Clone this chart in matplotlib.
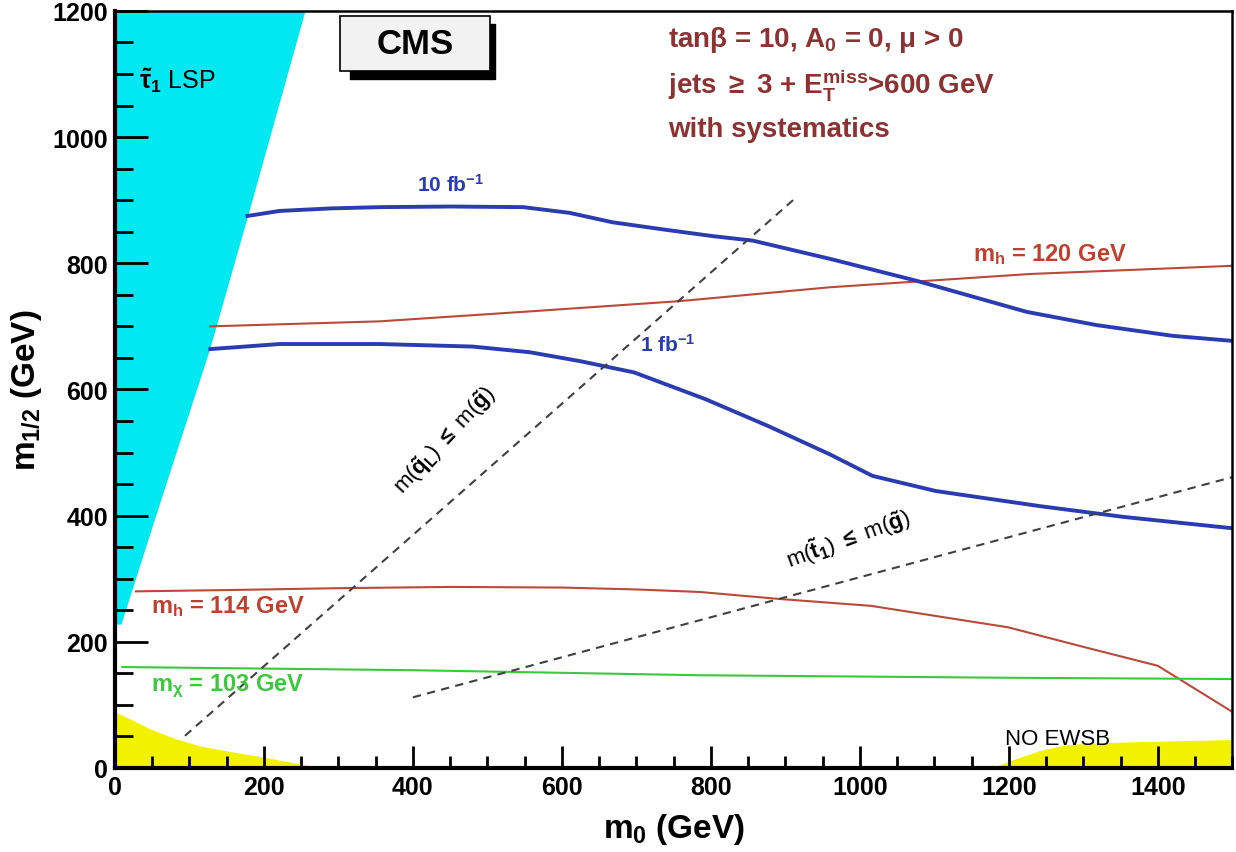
import matplotlib as mpl
from matplotlib import pyplot as plt
from matplotlib.patches import Rectangle
from matplotlib.ticker import MultipleLocator

mpl.rcParams['font.family'] = ['Liberation Sans', 'DejaVu Sans']
mpl.rcParams['font.weight'] = 'bold'
mpl.rcParams['axes.labelweight'] = 'bold'
mpl.rcParams['mathtext.fontset'] = 'custom'
mpl.rcParams['mathtext.rm'] = 'Liberation Sans:bold'
mpl.rcParams['mathtext.it'] = 'Liberation Sans:bold'
mpl.rcParams['mathtext.bf'] = 'Liberation Sans:bold'
mpl.rcParams['mathtext.sf'] = 'Liberation Sans:bold'

# %% data (GeV)
# stau LSP region (cyan), edge of the wedge
stau_edge_x = [8, 60, 127, 178, 255]
stau_edge_y = [228, 420, 664, 875, 1200]

# no EWSB / LEP excluded regions (yellow)
yel_left_x = [0, 25, 47, 80, 114, 160, 201, 250, 280]
yel_left_y = [89, 75, 62, 47, 35, 25, 17, 6, 0]
yel_right_x = [1176, 1210, 1240, 1265, 1287, 1350, 1420, 1500]
yel_right_y = [0, 15, 27, 34, 38, 41, 43, 45]

# reach contours
fb10_x = [178, 221, 290, 356, 450, 548, 610, 668, 740, 803, 856, 960, 1077, 1224, 1318, 1420, 1500]
fb10_y = [875, 883, 887, 889, 890, 889, 880, 865, 853, 843, 836, 807, 772, 723, 702, 685, 677]
fb1_x = [128, 221, 356, 480, 557, 624, 697, 792, 877, 960, 1017, 1102, 1242, 1354, 1500]
fb1_y = [664, 672, 672, 668, 659, 645, 627, 585, 542, 497, 463, 439, 415, 398, 380]

# higgs / chargino mass lines
mh120_x = [128, 356, 560, 758, 960, 1228, 1500]
mh120_y = [700, 708, 724, 740, 762, 783, 796]
mh114_x = [28, 150, 300, 450, 600, 700, 785, 891, 1015, 1199, 1300, 1400, 1500]
mh114_y = [280, 282, 285, 287, 286, 283, 279, 268, 257, 223, 192, 162, 89]
mchi_x = [10, 400, 785, 1200, 1500]
mchi_y = [160, 155, 147, 143, 141]

# squark = gluino and stop = gluino lines
sq_x = [94, 915]
sq_y = [51, 905]
st_x = [400, 1500]
st_y = [112, 461]

# %% plot
fig = plt.figure(figsize=(12.36, 8.53), dpi=100)
ax = fig.add_axes([0.093, 0.0985, 0.904, 0.8875])

ax.fill_betweenx([228] + stau_edge_y, 0, [0] + stau_edge_x, color='#00e8f0', lw=0, zorder=1)
ax.fill_between(yel_left_x, 0, yel_left_y, color='#f2f200', lw=0, zorder=1)
ax.fill_between(yel_right_x, 0, yel_right_y, color='#f2f200', lw=0, zorder=1)

ax.plot(fb10_x, fb10_y, color='#2a3cb0', lw=2.8, zorder=4)
ax.plot(fb1_x, fb1_y, color='#2a3cb0', lw=2.8, zorder=4)
ax.plot(mh120_x, mh120_y, color='#b84a3a', lw=1.5, zorder=3)
ax.plot(mh114_x, mh114_y, color='#b84a3a', lw=1.5, zorder=3)
ax.plot(mchi_x, mchi_y, color='#3cc83c', lw=1.5, zorder=3)
ax.plot(sq_x, sq_y, color='#404040', lw=1.5, ls=(0, (4, 3)), zorder=5)
ax.plot(st_x, st_y, color='#404040', lw=1.5, ls=(0, (4, 3)), zorder=5)

ax.set_xlim(0, 1500)
ax.set_ylim(0, 1200)
ax.xaxis.set_major_locator(MultipleLocator(200))
ax.xaxis.set_minor_locator(MultipleLocator(50))
ax.yaxis.set_major_locator(MultipleLocator(200))
ax.yaxis.set_minor_locator(MultipleLocator(50))
ax.tick_params(which='both', direction='in', top=False, right=False, width=2, labelsize=18, pad=5)
ax.tick_params(axis='x', which='major', length=16)
ax.tick_params(axis='x', which='minor', length=9)
ax.tick_params(axis='y', which='major', length=24)
ax.tick_params(axis='y', which='minor', length=13)
for s in ['left', 'bottom']:
    ax.spines[s].set_linewidth(3)
for s in ['top', 'right']:
    ax.spines[s].set_linewidth(1.8)
for s in ax.spines.values():
    s.set_zorder(6)

ax.set_xlabel(r'$m_0$ (GeV)', fontsize=24, labelpad=9)
ax.set_ylabel(r'$m_{1/2}$ (GeV)', fontsize=24, labelpad=6)

# labels
ax.text(32, 1078, r'$\tilde{\tau}_1$ LSP', fontsize=18, fontweight='normal', zorder=7)
ax.text(405, 915, r'10 fb$^{-1}$', fontsize=15, color='#2a3cb0', zorder=7)
ax.text(705, 662, r'1 fb$^{-1}$', fontsize=15, color='#2a3cb0', zorder=7)
ax.text(1152, 805, r'$m_h$ = 120 GeV', fontsize=17, color='#c04030', zorder=7)
ax.text(48, 247, r'$m_h$ = 114 GeV', fontsize=17, color='#c04030', zorder=7)
ax.text(48, 123, r'$m_{\chi}$ = 103 GeV', fontsize=17, color='#3cc83c', zorder=7)
ax.text(443, 521, r'm($\tilde{q}_L$) $\leq$ m($\tilde{g}$)', fontsize=16, rotation=47,
        ha='center', va='center', fontweight='normal', zorder=7)
ax.text(984, 365, r'm($\tilde{t}_1$) $\leq$ m($\tilde{g}$)', fontsize=16, rotation=20,
        ha='center', va='center', fontweight='normal', zorder=7)
ax.text(1195, 38, 'NO EWSB', fontsize=16, fontweight='normal', zorder=7)

txt_col = '#8c3232'
fig.text(668 / 1236, 1 - 40 / 853, r'tan$\beta$ = 10, A$_0$ = 0, $\mu$ > 0', fontsize=20,
         color=txt_col, va='center')
fig.text(668 / 1236, 1 - 85 / 853, r'jets $\geq$ 3 + E$_T^{miss}$>600 GeV', fontsize=20,
         color=txt_col, va='center')
fig.text(668 / 1236, 1 - 130 / 853, 'with systematics', fontsize=20,
         color=txt_col, va='center')

# CMS box with shadow
fig.patches.append(Rectangle((350 / 1236, 1 - 80 / 853), 145 / 1236, 55 / 853,
                             transform=fig.transFigure, color='black', zorder=8))
fig.patches.append(Rectangle((340 / 1236, 1 - 72 / 853), 150 / 1236, 55 / 853,
                             transform=fig.transFigure, facecolor='#f2f2f2',
                             edgecolor='black', lw=1.2, zorder=9))
fig.text(415 / 1236, 1 - 45 / 853, 'CMS', fontsize=25, ha='center', va='center', zorder=10)

plt.savefig('out.png', dpi=100)
